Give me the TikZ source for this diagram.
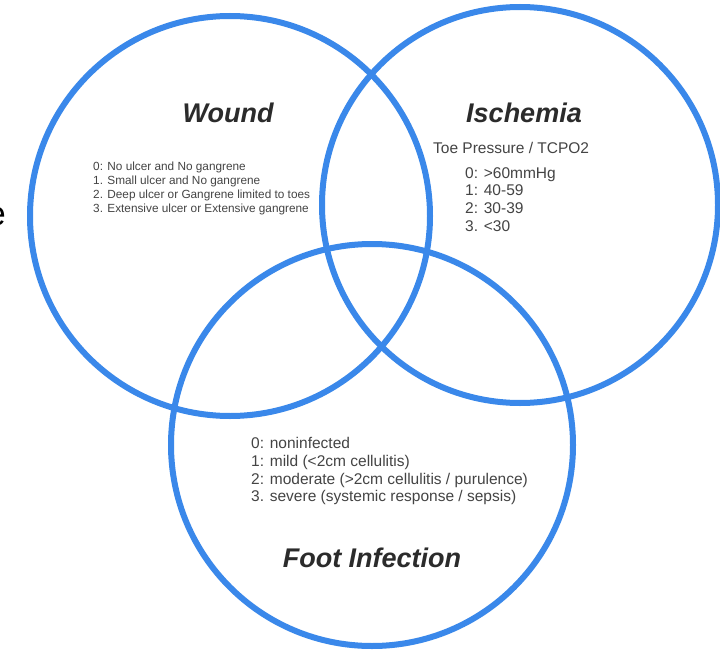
\documentclass[tikz,border=0pt]{standalone}
\usepackage{fontspec}
\setmainfont{Liberation Sans}
\definecolor{ringblue}{HTML}{3A88EA}
\definecolor{titlegray}{HTML}{2B2B2B}
\definecolor{textgray}{HTML}{444444}
\begin{document}
\begin{tikzpicture}[x=1pt,y=-1pt,
  ring/.style={draw=ringblue,line width=6pt},
  title/.style={inner sep=0pt,text=titlegray,font=\fontsize{27}{32}\selectfont\bfseries\itshape},
  smalllist/.style={inner sep=0pt,anchor=north west,align=left,text=textgray,font=\fontsize{11.8}{14}\selectfont},
  biglist/.style={inner sep=0pt,anchor=north west,align=left,text=textgray,font=\fontsize{15.5}{17.8}\selectfont}]
\useasboundingbox (0,0) rectangle (720,650);
\clip (0,0) rectangle (720,650);
\fill[white] (0,0) rectangle (720,650);
% circles
\draw[ring] (230,216) circle[radius=200];
\draw[ring] (520,205) circle[radius=198];
\draw[ring] (372,445) circle[radius=201];
% cut-off letter at left edge
\node[inner sep=0pt,anchor=base east,font=\fontsize{34}{40}\selectfont] (frag) at (6,225) {e};
% titles
\node[title] (wound) at (228,113) {Wound};
\node[title] (isch) at (524,113) {Ischemia};
\node[title] (foot) at (372,558) {Foot Infection};
% wound list
\node[smalllist] (wlist) at (93,161.5) {0: No ulcer and No gangrene\\1. Small ulcer and No gangrene\\2. Deep ulcer or Gangrene limited to toes\\3. Extensive ulcer or Extensive gangrene};
% ischemia
\node[biglist] (ihead) at (433,142) {Toe Pressure / TCPO2};
\node[biglist] (ilist) at (465,167) {0: >60mmHg\\1: 40-59\\2: 30-39\\3. <30};
% foot infection list
\node[biglist] (flist) at (251,437) {0: noninfected\\1: mild (<2cm cellulitis)\\2: moderate (>2cm cellulitis / purulence)\\3. severe (systemic response / sepsis)};
\end{tikzpicture}
\end{document}
